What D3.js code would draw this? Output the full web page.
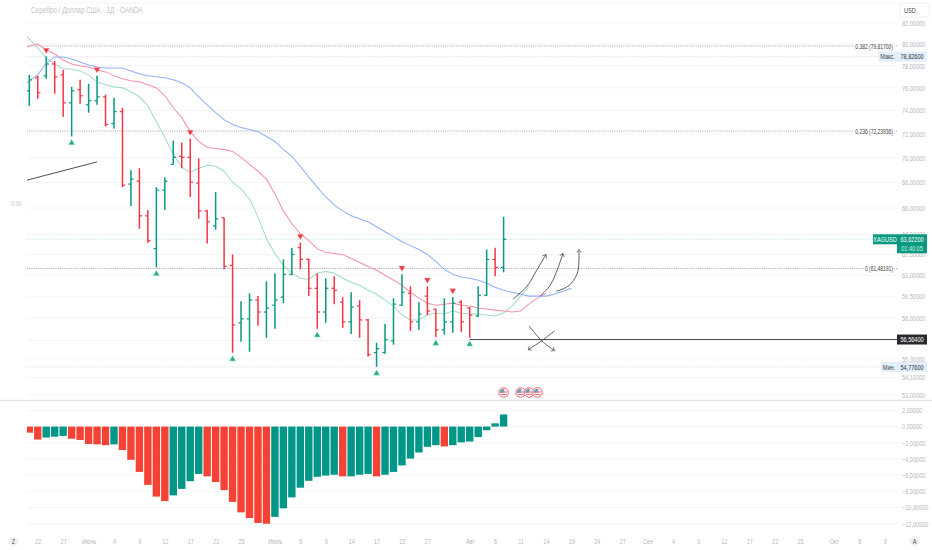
<!DOCTYPE html>
<html lang="ru">
<head>
  <meta charset="UTF-8">
  <title>XAGUSD</title>
  <script src="https://d3js.org/d3.v7.min.js"></script>
  <style>
    html, body { margin: 0; padding: 0; background: #fff; }
    svg { display: block; }
    text { font-family: "Liberation Sans", sans-serif; font-size: 7.5px; }
    .tick text { fill: #b4b7be; }
    .grid { stroke: #f4f4f5; stroke-width: 1; }
    .ma { fill: none; stroke-width: 1.05; }
    .drawn { fill: none; stroke: #4d4a4c; stroke-width: 0.9; }
  </style>
</head>
<body>
  <svg width="932" height="550"></svg>
  <script>
    // daily OHLC, bar 0 is the first visible bar
    const opens = [75.73,76.89,77.07,78.15,77.16,74.67,75.82,74.50,74.85,75.20,72.87,73.90,67.88,68.11,65.40,62.93,67.40,69.47,70.13,70.04,67.96,65.78,64.64,65.25,61.70,57.68,57.95,59.24,58.42,58.89,59.45,61.06,63.00,62.14,60.07,58.42,60.07,59.10,57.75,58.83,57.88,55.70,55.70,56.48,58.89,59.72,57.75,59.52,58.62,57.21,57.75,59.10,58.69,58.15,59.58,62.14,61.56];
    const highs = [77.16,77.07,78.83,78.43,77.61,76.08,76.71,76.35,77.07,75.38,75.11,74.24,68.99,69.15,65.85,67.64,68.43,71.44,71.28,71.61,69.96,65.85,67.25,65.25,62.50,59.17,59.72,59.52,60.56,61.13,62.14,63.00,63.37,62.21,61.13,60.78,60.92,59.45,59.79,59.24,57.95,56.35,57.61,59.38,61.06,60.21,59.10,60.21,58.62,59.38,59.45,59.24,58.76,60.21,62.86,63.00,65.32];
    const lows = [74.41,75.03,76.80,75.47,73.47,71.78,74.58,73.81,74.50,72.62,72.45,67.64,66.16,64.41,63.37,61.56,65.85,69.47,69.15,66.86,65.17,63.30,64.34,61.42,55.70,56.41,55.76,57.48,56.68,57.28,59.03,60.99,61.42,59.52,57.28,57.68,58.96,57.34,56.94,56.68,55.44,54.78,55.63,56.22,58.83,57.14,57.21,58.21,56.74,56.88,57.01,57.08,56.68,58.08,59.52,60.92,61.20];
    const closes = [76.71,75.55,78.15,76.98,74.67,75.73,75.29,74.85,75.20,72.79,73.90,67.80,68.27,65.40,63.52,67.40,68.11,70.04,70.04,68.03,65.78,64.94,65.17,61.63,57.55,57.95,59.24,58.42,58.69,59.24,61.06,62.50,62.14,60.07,58.42,60.07,59.93,57.75,58.76,57.88,55.57,55.96,56.55,58.96,59.79,57.75,58.28,58.49,57.21,57.75,59.03,57.75,58.21,59.58,62.14,61.56,63.62];

    // moving averages, first value sits one bar left of bar 0
    const maGreen = [81.33,80.47,79.63,78.70,78.15,77.70,77.70,77.52,77.16,76.53,76.26,76.08,75.99,75.64,75.20,74.41,73.04,71.70,70.29,69.23,68.83,69.15,69.39,69.31,68.91,68.03,67.48,66.70,65.32,63.67,62.57,61.70,61.13,60.78,60.71,61.13,61.27,61.13,60.78,60.49,60.28,59.93,59.65,59.24,58.83,58.21,57.88,57.88,58.21,58.35,58.28,58.49,58.35,58.28,58.28,58.21,58.15,58.35,58.83,59.52,60.21];
    const maPink = [79.45,79.82,80.00,79.45,79.07,78.52,78.15,77.97,77.88,77.61,77.43,77.07,76.80,76.62,76.53,76.26,75.99,75.29,74.24,73.38,72.19,71.36,70.86,70.78,70.70,70.53,70.04,69.47,68.91,68.27,67.09,65.78,64.79,64.04,63.52,62.93,62.64,62.57,62.50,62.21,61.91,61.63,61.35,60.99,60.64,60.28,59.79,59.38,59.03,58.89,58.96,59.03,58.89,58.83,58.69,58.62,58.55,58.49,58.42,58.49,58.96,59.38,59.72];
    const maBlue = [75.99,76.62,77.16,78.24,78.80,78.80,78.61,78.34,78.06,77.88,77.79,77.79,77.79,77.52,77.25,77.07,76.98,76.89,76.71,76.44,75.99,75.20,74.50,73.81,73.21,72.79,72.53,72.36,72.19,71.78,71.36,70.70,70.13,69.31,68.43,67.64,66.86,66.24,65.78,65.40,65.17,64.94,64.56,64.19,63.82,63.44,63.15,62.86,62.50,61.99,61.42,61.06,60.85,60.78,60.64,60.42,60.14,59.93,59.79,59.65,59.52,59.52,59.52,59.65,59.86,60.07];

    // oscillator histogram
    const oscValues = [-0.75,-1.6,-1.35,-1.25,-1.15,-1.5,-1.65,-2.15,-2.2,-2.3,-2.2,-2.9,-4.1,-5.6,-7.2,-8.65,-9.2,-8.5,-7.7,-6.75,-5.85,-6.15,-6.85,-7.85,-9.3,-10.6,-11.3,-11.9,-12.0,-11.15,-10.1,-8.75,-7.55,-6.7,-6.2,-6.05,-5.95,-6.15,-6.15,-5.95,-5.85,-6.15,-5.95,-5.6,-4.8,-3.95,-3.2,-2.5,-2.3,-2.45,-2.3,-1.95,-1.85,-1.3,-0.45,0.4,1.5];
    const oscRedBars = [0,1,5,6,7,8,9,11,12,13,14,15,16,21,22,23,24,25,26,27,28,37,41,49];

    const signalsDown = [2,8,19,32,44,47,50];
    const signalsUp = [5,15,24,34,41,48,52];
    const eventBars = [56,58,59,60];

    const gridPrices = [82,80,78,76,74,72,70,68,66,64,62.5,61,59.5,58,56.5,55.3,54.1,53];
    const priceTicks = [82,80,78,76,74,72,70,68,66,64,62.5,61,59.5,58,55.3,54.1,53];
    const oscTicks = [2,0,-2,-4,-6,-8,-10,-12];
    const timeTicks = [1,4,7,10,13,16,19,22,25,29,32,35,38,41,44,47,52,55,58,61,64,67,70,73,76,79,82,85,88,91,95,98,101];
    const timeLabels = ["22","27","Июнь","4","9","12","17","22","25","Июль","6","9","14","17","22","27","Авг","6","11","14","19","24","27","Сен","4","9","12","17","22","25","Окт","6","9"];

    const fibLevels = [79.817, 72.23936, 61.48191];
    const fibLabels = ["0,382 (79,81700)", "0,236 (72,23936)", "0 (61,48191)"];
    const maxPrice = 78.826, minPrice = 54.776, lastPrice = 63.622, stopPrice = 56.564;

    // hand drawn things, [bar, price]
    const trendLine = [[-0.3,68.19],[8,69.67]];
    const stopStart = 52;
    const upArrows = [
      [[57.1,59.31],[58.76,60.21],[59.7,61.13],[61.0,62.50]],
      [[60.3,59.52],[61.5,60.28],[62.4,61.49],[63.0,62.57]],
      [[62.2,59.86],[63.6,60.21],[64.7,61.13],[64.9,62.86]],
      [[59.0,57.48],[60.5,56.48],[62.0,55.83]],
      [[62.0,57.14],[60.5,56.48],[58.9,55.89]]
    ];

    const green = "#089981", red = "#f23645";
    const svg = d3.select("svg");
    const left = 27, right = 897;

    const x = d3.scaleLinear().domain([0, 56]).range([29.3, 503.6]);
    const y = d3.scaleLog().domain([53, 82]).range([395, 23]);
    const yOsc = d3.scaleLinear().domain([2, -12]).range([410.4, 523.7]);

    const fmt = d => d.toFixed(5).replace(".", ",").replace("-", "\u2212");

    // the picture's labels are narrower than any installed font
    function squeeze(sel, k) {
      sel.each(function() {
        const len = this.getComputedTextLength();
        if (len > 0 && !this.hasAttribute("textLength")) {
          d3.select(this).attr("textLength", len * k).attr("lengthAdjust", "spacingAndGlyphs");
        }
      });
    }

    svg.append("defs").append("clipPath").attr("id", "plot")
      .append("rect").attr("x", left).attr("y", 0).attr("width", right - left).attr("height", 550);
    const arrowHead = svg.select("defs").append("marker")
      .attr("id", "head").attr("viewBox", "-6 -5 7 10").attr("refX", 0).attr("refY", 0)
      .attr("markerWidth", 6).attr("markerHeight", 6).attr("markerUnits", "userSpaceOnUse").attr("orient", "auto");
    arrowHead.append("path").attr("d", "M-5,-4L0,0L-5,4").attr("fill", "none").attr("stroke", "#4d4a4c").attr("stroke-width", 1.1);

    // frame and grid
    svg.append("line").attr("class", "grid").attr("x1", left).attr("x2", right).attr("y1", 3).attr("y2", 3);
    svg.selectAll(".gridP").data(gridPrices).enter().append("line").attr("class", "grid")
      .attr("x1", left).attr("x2", right).attr("y1", d => y(d)).attr("y2", d => y(d));
    svg.selectAll(".gridO").data(oscTicks).enter().append("line").attr("class", "grid")
      .attr("x1", left).attr("x2", right).attr("y1", d => yOsc(d)).attr("y2", d => yOsc(d));
    svg.append("line").attr("x1", 0).attr("x2", 932).attr("y1", 400.5).attr("y2", 400.5)
      .attr("stroke", "#e6e7ea").attr("stroke-width", 1.4);

    const plot = svg.append("g").attr("clip-path", "url(#plot)");

    // dotted levels
    function level(price, color, width) {
      plot.append("line").attr("x1", left).attr("x2", right).attr("y1", y(price)).attr("y2", y(price))
        .attr("stroke", color).attr("stroke-width", width).attr("stroke-dasharray", "1,1.2");
    }
    level(maxPrice, "#d6d6d8", 0.8);
    level(minPrice, "#dcdcde", 1);
    level(lastPrice, "#bfe6dd", 1);
    fibLevels.forEach(d => level(d, "#9a9a9c", 0.9));

    fibLevels.forEach((d, i) => {
      const t = svg.append("text").attr("x", 893).attr("y", y(d) + 2.6)
        .attr("text-anchor", "end").attr("fill", "#3c3a3c").text(fibLabels[i]);
      squeeze(t, 0.66);
      const b = t.node().getBBox();
      svg.insert("rect", "text").attr("x", b.x - 1).attr("y", b.y).attr("width", b.width + 2).attr("height", b.height).attr("fill", "#fff");
    });

    // moving averages
    const maLine = d3.line().x((d, i) => x(i - 1)).y(d => y(d));
    plot.append("path").attr("class", "ma").attr("stroke", "#a3dcc4").attr("d", maLine(maGreen));
    plot.append("path").attr("class", "ma").attr("stroke", "#f693a8").attr("d", maLine(maPink));
    plot.append("path").attr("class", "ma").attr("stroke", "#93b0f7").attr("d", maLine(maBlue));

    // ohlc bars
    const bars = plot.selectAll(".ohlc").data(opens).enter().append("g")
      .attr("stroke", (d, i) => closes[i] >= d ? green : red);
    bars.append("line").attr("x1", (d, i) => x(i)).attr("x2", (d, i) => x(i))
      .attr("y1", (d, i) => y(highs[i])).attr("y2", (d, i) => y(lows[i])).attr("stroke-width", 1.5);
    bars.append("line").attr("x1", (d, i) => x(i) - 2.7).attr("x2", (d, i) => x(i))
      .attr("y1", d => y(d)).attr("y2", d => y(d)).attr("stroke-width", 1.2);
    bars.append("line").attr("x1", (d, i) => x(i)).attr("x2", (d, i) => x(i) + 2.7)
      .attr("y1", (d, i) => y(closes[i])).attr("y2", (d, i) => y(closes[i])).attr("stroke-width", 1.2);

    // signal triangles
    const tri = d3.symbol().type(d3.symbolTriangle).size(17)();
    plot.selectAll(".sigDown").data(signalsDown).enter().append("path").attr("d", tri)
      .attr("fill", red).attr("stroke", "#fbb6bc").attr("stroke-width", 0.4)
      .attr("transform", d => `translate(${x(d)},${y(highs[d]) - 6.5}) rotate(180)`);
    plot.selectAll(".sigUp").data(signalsUp).enter().append("path").attr("d", tri)
      .attr("fill", "#2aa88f").attr("stroke", "#a7efc0").attr("stroke-width", 0.5)
      .attr("transform", d => `translate(${x(d)},${y(lows[d]) + 6.5})`);

    // annotations
    const pt = d3.line().x(d => x(d[0])).y(d => y(d[1]));
    plot.append("path").attr("d", pt(trendLine)).attr("fill", "none").attr("stroke", "#5b4b50").attr("stroke-width", 1);
    plot.append("line").attr("x1", x(stopStart)).attr("x2", right).attr("y1", y(stopPrice)).attr("y2", y(stopPrice))
      .attr("stroke", "#4f4f52").attr("stroke-width", 1);
    const curved = d3.line().x(d => x(d[0])).y(d => y(d[1])).curve(d3.curveCatmullRom);
    plot.selectAll(".arrow").data(upArrows).enter().append("path").attr("class", "drawn")
      .attr("d", d => curved(d)).attr("marker-end", "url(#head)");

    // events
    const ev = svg.selectAll(".ev").data(eventBars).enter().append("g")
      .attr("transform", d => `translate(${x(d)},392.5)`);
    ev.append("circle").attr("r", 4.8).attr("fill", "#fff").attr("stroke", "#f0636f").attr("stroke-width", 1);
    ev.append("rect").attr("x", -3.6).attr("y", -1).attr("width", 7.2).attr("height", 1).attr("fill", "#ef5a66");
    ev.append("rect").attr("x", -3).attr("y", 1.3).attr("width", 6).attr("height", 1).attr("fill", "#ef5a66");
    ev.append("path").attr("d", d3.arc()({ innerRadius: 0, outerRadius: 3.8, startAngle: -Math.PI * 0.55, endAngle: Math.PI * 0.1 })).attr("fill", "#6f9bb8");

    // oscillator
    plot.selectAll(".osc").data(oscValues).enter().append("rect")
      .attr("x", (d, i) => x(i) - 3.7).attr("width", 7.4)
      .attr("y", d => yOsc(Math.max(d, 0))).attr("height", d => Math.abs(yOsc(d) - yOsc(0)))
      .attr("fill", (d, i) => oscRedBars.includes(i) ? "#f44336" : "#009688");

    // axes
    const priceAxis = svg.append("g").attr("transform", "translate(902,0)")
      .call(d3.axisRight(y).tickValues(priceTicks).tickFormat(fmt).tickSize(0).tickPadding(0));
    const oscAxis = svg.append("g").attr("transform", "translate(902,0)")
      .call(d3.axisRight(yOsc).tickValues(oscTicks).tickFormat(fmt).tickSize(0).tickPadding(0));
    const timeAxis = svg.append("g").attr("transform", "translate(0,538.5)")
      .call(d3.axisBottom(x).tickValues(timeTicks).tickFormat((d, i) => timeLabels[i]).tickSize(0).tickPadding(0));
    [priceAxis, oscAxis, timeAxis].forEach(a => {
      a.select(".domain").remove();
      a.attr("font-family", null).attr("font-size", null);
    });

    // title and side labels
    svg.append("text").attr("x", 31).attr("y", 12.5).attr("fill", "#c4c6cb").style("font-size", "8.6px")
      .text("Серебро / Доллар США · 1Д · OANDA");
    svg.append("text").attr("x", 11).attr("y", 205.5).attr("fill", "#c2c4c8").text("0,00");

    svg.append("rect").attr("x", 900).attr("y", 3).attr("width", 29).attr("height", 14).attr("rx", 2)
      .attr("fill", "#fff").attr("stroke", "#f0f0f2");
    svg.append("text").attr("x", 904).attr("y", 12.6).attr("fill", "#3e3e42").text("USD");

    function tag(x0, w, yMid, h, fill, color, label) {
      svg.append("rect").attr("x", x0).attr("y", yMid - h / 2).attr("width", w).attr("height", h).attr("fill", fill);
      if (label) svg.append("text").attr("x", x0 + w / 2).attr("y", yMid + 2.6).attr("text-anchor", "middle").attr("fill", color).text(label);
    }
    tag(878, 19, y(maxPrice), 10, "#e3effd", "#3c3f46", "Макс.");
    tag(897, 30, y(maxPrice), 10, "#e3effd", "#2f3136", fmt(maxPrice));
    tag(881, 16, y(minPrice), 10, "#e3effd", "#3c3f46", "Мин.");
    tag(897, 30, y(minPrice), 10, "#e3effd", "#2f3136", fmt(minPrice));
    tag(873, 24, y(lastPrice), 10, green, "#fff", "XAGUSD");
    tag(897, 30, y(lastPrice) + 4.5, 19, green, "#fff", "");
    svg.append("text").attr("x", 912).attr("y", y(lastPrice) + 2.6).attr("text-anchor", "middle").attr("fill", "#fff").text(fmt(lastPrice));
    svg.append("text").attr("x", 912).attr("y", y(lastPrice) + 11.4).attr("text-anchor", "middle").attr("fill", "#d5efe9").text("01:40:05");
    tag(897, 30, y(stopPrice), 10, "#2a2a2e", "#fff", fmt(stopPrice));

    // corner buttons
    [[13.5, "Z"], [914.5, "A"]].forEach(d => {
      svg.append("circle").attr("cx", d[0]).attr("cy", 541.5).attr("r", 5).attr("fill", "#f0f1f3");
      svg.append("text").attr("x", d[0]).attr("y", 544).attr("text-anchor", "middle").attr("fill", "#4a4c52").text(d[1]);
    });

    squeeze(svg.selectAll("text"), 0.74);
  </script>
</body>
</html>
